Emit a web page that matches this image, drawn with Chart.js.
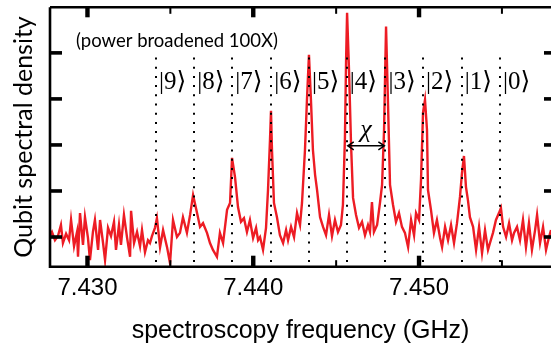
<!DOCTYPE html>
<html><head><meta charset="utf-8">
<script src="https://cdn.jsdelivr.net/npm/chart.js@4.4.1/dist/chart.umd.min.js"></script>
<style>html,body{margin:0;padding:0;background:#fff;}#wrap{width:551px;height:348px;position:relative}</style>
</head><body><div id="wrap"><canvas id="c" width="551" height="348"></canvas></div>
<script>
// spectroscopy frequency (GHz) of each sample
const freqGHz = [
7.42768,7.42786,7.42804,7.42822,7.42840,7.42852,7.42871,7.42889,7.42901,7.42919,
7.42937,7.42943,7.42955,7.42973,7.42985,7.43003,7.43015,7.43033,7.43045,7.43064,
7.43076,7.43094,7.43106,7.43124,7.43142,7.43160,7.43172,7.43190,7.43202,7.43220,
7.43239,7.43257,7.43263,7.43281,7.43299,7.43317,7.43329,7.43347,7.43365,7.43377,
7.43389,7.43407,7.43419,7.43438,7.43456,7.43480,7.43498,7.43516,7.43540,7.43558,
7.43576,7.43600,7.43619,7.43637,7.43661,7.43679,7.43697,7.43721,7.43739,7.43757,
7.43781,7.43799,7.43818,7.43842,7.43860,7.43872,7.43890,7.43908,7.43926,7.43944,
7.43962,7.43980,7.43999,7.44017,7.44029,7.44041,7.44059,7.44077,7.44089,7.44101,
7.44107,7.44113,7.44125,7.44143,7.44161,7.44180,7.44198,7.44210,7.44228,7.44246,
7.44264,7.44282,7.44294,7.44312,7.44324,7.44336,7.44348,7.44360,7.44373,7.44385,
7.44403,7.44421,7.44439,7.44457,7.44475,7.44493,7.44511,7.44529,7.44541,7.44553,
7.44560,7.44566,7.44578,7.44590,7.44602,7.44620,7.44638,7.44656,7.44674,7.44692,
7.44704,7.44716,7.44728,7.44747,7.44765,7.44777,7.44789,7.44801,7.44813,7.44825,
7.44843,7.44861,7.44879,7.44897,7.44915,7.44934,7.44952,7.44970,7.44982,7.45000,
7.45012,7.45024,7.45036,7.45048,7.45054,7.45072,7.45090,7.45108,7.45127,7.45139,
7.45157,7.45175,7.45193,7.45211,7.45229,7.45247,7.45259,7.45271,7.45283,7.45295,
7.45307,7.45326,7.45344,7.45362,7.45380,7.45398,7.45416,7.45428,7.45446,7.45464,
7.45482,7.45494,7.45507,7.45525,7.45543,7.45561,7.45573,7.45591,7.45609,7.45627,
7.45645,7.45663,7.45681,7.45700,7.45712,7.45730,7.45748,7.45766,7.45784,7.45796
];
// qubit spectral density (arb. units)
const density = [
-0.02,0.11,-0.07,0.02,0.26,-0.13,0.07,-0.07,0.37,-0.20,
0.11,-0.43,0.52,-0.17,0.43,-0.02,-0.50,0.11,0.37,-0.28,
0.37,-0.13,-0.50,0.20,0.02,0.33,-0.28,0.26,-0.17,0.48,
-0.02,-0.43,0.57,-0.13,0.11,-0.20,0.15,-0.33,-0.07,-0.13,
0.02,0.20,0.41,-0.22,0.15,-0.22,-0.57,0.37,0.00,0.09,
0.43,0.09,0.48,0.91,0.52,0.22,0.30,0.09,-0.13,-0.28,
-0.43,0.09,-0.13,0.59,0.74,1.72,1.30,0.65,0.33,0.41,
0.11,0.37,-0.02,0.20,-0.07,0.00,-0.28,0.20,1.02,2.11,
2.74,1.89,0.74,0.43,0.04,-0.13,0.15,-0.07,0.22,0.00,
0.52,0.26,0.74,1.89,2.98,3.96,2.98,1.89,1.35,1.02,
0.43,0.22,0.04,0.48,0.02,0.37,0.11,0.26,0.70,2.15,
3.85,4.87,3.59,2.00,0.85,0.48,0.20,0.33,0.04,0.26,
0.11,0.76,0.11,0.26,0.76,1.13,2.33,4.57,2.87,1.13,
0.70,0.33,0.52,0.22,0.09,-0.22,0.37,0.04,0.52,0.37,
1.24,2.70,2.98,2.33,1.02,0.59,0.09,0.37,-0.02,-0.22,
0.22,-0.07,0.26,-0.13,0.30,0.87,1.39,1.76,1.09,0.80,
0.43,0.22,-0.28,0.22,-0.35,0.15,-0.28,-0.13,0.09,0.37,
0.52,0.63,0.22,0.00,0.30,-0.07,0.09,0.22,-0.07,0.37,
-0.22,0.30,-0.28,0.15,0.48,-0.13,0.22,-0.28,0.00,0.15
];
// photon-number-split transition frequencies (GHz) and their labels
const levelFreqs = [7.43413,7.43644,7.43874,7.44109,7.44336,7.44564,7.44797,7.45024,7.45257,7.45488];
const levelLabels = ['|9\u27E9','|8\u27E9','|7\u27E9','|6\u27E9','|5\u27E9','|4\u27E9','|3\u27E9','|2\u27E9','|1\u27E9','|0\u27E9'];
const xMajorTicks = [7.430, 7.440, 7.450];
const xMinorTicks = [7.435, 7.445, 7.455];
const yTicks = [0, 1, 2, 3, 4];
const annotationText = '(power broadened 100X)';
const chiText = '\u03C7';

const overlay = {
  id: 'overlay',
  afterDatasetsDraw(chart) {
    const {ctx, chartArea: a, scales: {x, y}} = chart;
    ctx.save();
    // dotted level lines
    ctx.strokeStyle = '#000';
    ctx.lineWidth = 2;
    ctx.setLineDash([2, 7.2]);
    const lineTop = y.getPixelForValue(3.9);
    levelFreqs.forEach(f => {
      const px = Math.round(x.getPixelForValue(f));
      ctx.beginPath(); ctx.moveTo(px, lineTop); ctx.lineTo(px, a.bottom); ctx.stroke();
    });
    ctx.setLineDash([]);
    // ket labels
    ctx.fillStyle = '#000';
    ctx.font = '25px "Liberation Serif", "DejaVu Serif", serif';
    ctx.textAlign = 'left'; ctx.textBaseline = 'middle';
    levelLabels.forEach((t, i) => {
      const px = x.getPixelForValue(levelFreqs[i]);
      ctx.fillText(t, px + 3, 82);
    });
    // chi double arrow between |4> and |3> lines
    const x1 = x.getPixelForValue(levelFreqs[5]) + 1, x2 = x.getPixelForValue(levelFreqs[6]) - 1;
    const ay = y.getPixelForValue(1.98);
    ctx.lineWidth = 1.5;
    ctx.beginPath();
    ctx.moveTo(x1, ay); ctx.lineTo(x2, ay);
    ctx.moveTo(x1 + 6, ay - 4); ctx.lineTo(x1, ay); ctx.lineTo(x1 + 6, ay + 4);
    ctx.moveTo(x2 - 6, ay - 4); ctx.lineTo(x2, ay); ctx.lineTo(x2 - 6, ay + 4);
    ctx.stroke();
    ctx.font = 'italic 26px "Liberation Serif", serif';
    ctx.textAlign = 'center';
    ctx.fillText(chiText, (x1 + x2) / 2, y.getPixelForValue(2.33));
    // annotation
    ctx.font = '18.5px Lato, "Open Sans", sans-serif';
    ctx.textAlign = 'left';
    ctx.fillText(annotationText, a.left + 26, a.top + 34);
    // frame
    ctx.lineWidth = 2.6;
    ctx.beginPath();
    ctx.moveTo(a.left, a.top); ctx.lineTo(a.right + 2, a.top);
    ctx.moveTo(a.left, a.top); ctx.lineTo(a.left, a.bottom);
    ctx.moveTo(a.left - 1.3, a.bottom); ctx.lineTo(a.right + 2, a.bottom);
    ctx.stroke();
    // x ticks (inward, bottom and top)
    xMajorTicks.forEach(v => {
      const px = x.getPixelForValue(v);
      ctx.fillRect(px - 2.2, a.bottom - 11, 4.4, 11);
      ctx.fillRect(px - 2.2, a.top, 4.4, 10);
    });
    xMinorTicks.forEach(v => {
      const px = x.getPixelForValue(v);
      ctx.fillRect(px - 1, a.bottom - 6.5, 2, 6.5);
      ctx.fillRect(px - 1, a.top, 2, 6.5);
    });
    // y ticks (inward, left and right)
    yTicks.forEach(v => {
      const py = y.getPixelForValue(v);
      ctx.fillRect(a.left, py - 1.8, 12, 3.6);
      ctx.fillRect(a.right - 7, py - 1.8, 7, 3.6);
    });
    ctx.restore();
  }
};

new Chart(document.getElementById('c').getContext('2d'), {
  type: 'line',
  data: {
    datasets: [{
      data: freqGHz.map((f, i) => ({x: f, y: density[i]})),
      borderColor: '#ED1C24', borderWidth: 2.4, pointRadius: 0, tension: 0, fill: false
    }]
  },
  options: {
    responsive: false, animation: false, devicePixelRatio: 1,
    layout: {padding: {top: 7.3, left: 0, right: 0, bottom: 0}},
    plugins: {legend: {display: false}, tooltip: {enabled: false}},
    scales: {
      x: {
        type: 'linear', min: 7.42774, max: 7.45796,
        grid: {display: false, drawTicks: false}, border: {display: false},
        afterBuildTicks: s => { s.ticks = [...xMajorTicks, ...xMinorTicks].sort((a, b) => a - b).map(v => ({value: v})); },
        ticks: {autoSkip: false, maxRotation: 0, minRotation: 0, padding: 7, color: '#000',
          font: {family: '"Liberation Sans", Arial, sans-serif', size: 24},
          callback: v => xMajorTicks.some(m => Math.abs(m - v) < 1e-9) ? v.toFixed(3) : ''},
        title: {display: true, text: 'spectroscopy frequency (GHz)', color: '#000',
          font: {family: '"Liberation Sans", Arial, sans-serif', size: 25}, padding: {top: 0, bottom: 2}},
        afterFit: s => { s.height = 81.3; }
      },
      y: {
        type: 'linear', min: -0.645, max: 4.99,
        grid: {display: false, drawTicks: false}, border: {display: false},
        ticks: {display: false},
        afterBuildTicks: s => { s.ticks = yTicks.map(v => ({value: v})); },
        title: {display: true, text: 'Qubit spectral density', color: '#000',
          font: {family: 'Lato, "Open Sans", sans-serif', size: 25}, padding: {top: 8.5, bottom: 0}},
        afterFit: s => { s.width = 50; }
      }
    }
  },
  plugins: [overlay]
});
</script></body></html>
